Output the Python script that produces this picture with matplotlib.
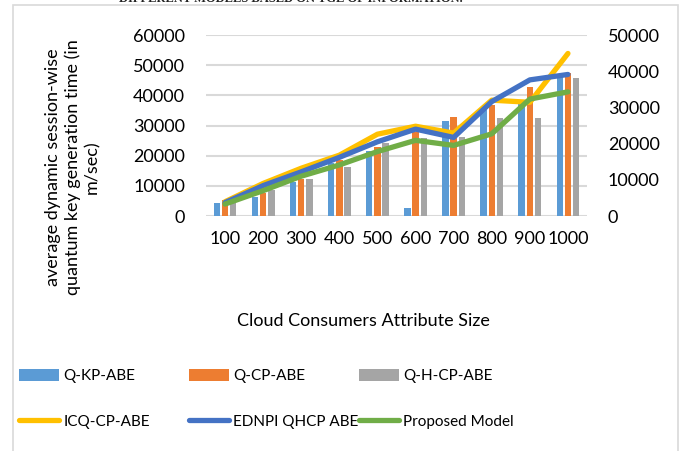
import numpy as np
import matplotlib
matplotlib.use("Agg")
import matplotlib.pyplot as plt
from matplotlib.patches import Rectangle

plt.rcParams["font.family"] = ["Lato", "DejaVu Sans"]

# Attribute sizes and timings
sizes = ["100", "200", "300", "400", "500", "600", "700", "800", "900", "1000"]

# bar series (left axis)
q_kp_abe = [4200, 6400, 11200, 17500, 21500, 2500, 31600, 35100, 37500, 47000]
q_cp_abe = [5300, 7500, 12300, 18600, 23000, 28000, 32700, 36800, 42900, 47300]
q_h_cp_abe = [4200, 8600, 12400, 16300, 24100, 25800, 26300, 32400, 32600, 45900]

# line series (right axis)
icq_cp_abe = [3950, 9000, 13200, 16800, 22600, 24800, 22900, 32000, 31400, 44900]
ednpi_qhcp = [3700, 8400, 12200, 16200, 20500, 24000, 21700, 31600, 37600, 39100]
proposed = [3300, 7000, 11000, 14100, 17800, 20900, 19500, 22700, 32300, 34300]

bar_colors = ["#5B9BD5", "#ED7D31", "#A5A5A5"]
line_colors = ["#FFC000", "#4472C4", "#70AD47"]
grid_col = "#D9D9D9"
txt = "#000000"
fs = 13

fig = plt.figure(figsize=(6.83, 4.51), dpi=100)

# outer frame of the chart area
fig.add_artist(Rectangle((13 / 683, -0.05), 665 / 683, 1 - 5 / 451 + 0.05,
                         transform=fig.transFigure, fill=False,
                         edgecolor="#D9D9D9", lw=1.2, clip_on=False))

# caption from the page above, cut off
fig.text(291 / 683, 1 - 2.5 / 451, "DIFFERENT MODELS BASED ON TGE OF INFORMATION.",
         ha="center", va="baseline", fontsize=9, fontweight="bold",
         family="Liberation Serif", color="#222222")

ax = fig.add_axes([206 / 683, 1 - 216 / 451, 381 / 683, 181 / 451])
x = np.arange(len(sizes))
w = 0.17
off = 0.215
bars = []
for i, (vals, lab) in enumerate(zip([q_kp_abe, q_cp_abe, q_h_cp_abe],
                                    ["Q-KP-ABE", "Q-CP-ABE", "Q-H-CP-ABE"])):
    b = ax.bar(x + (i - 1) * off, vals, width=w, color=bar_colors[i], label=lab, zorder=2)
    bars.append(b)

ax.set_ylim(0, 60000)
ax.set_yticks(range(0, 60001, 10000))
ax.set_xlim(-0.5, len(sizes) - 0.5)
ax.set_xticks(x)
ax.set_xticklabels(sizes)
ax.grid(axis="y", color=grid_col, lw=1.5, zorder=0)
ax.set_axisbelow(True)
for s in ax.spines.values():
    s.set_visible(False)
ax.tick_params(axis="both", length=0, labelsize=fs, colors=txt)
ax.tick_params(axis="y", pad=15)
ax.tick_params(axis="x", pad=11)
ax.set_xlabel("Cloud Consumers Attribute Size", fontsize=fs, va="center")
ax.xaxis.set_label_coords(0.412, -0.58)
ax.set_ylabel("average dynamic session-wise\nquantum key generation time (in\nm/sec)",
              fontsize=fs, linespacing=1.25, va="center", multialignment="center")
ax.yaxis.set_label_coords(-0.35, 0.27)

ax2 = ax.twinx()
lines = []
for vals, lab, c in zip([icq_cp_abe, ednpi_qhcp, proposed],
                        ["ICQ-CP-ABE", "EDNPI QHCP ABE", "Proposed Model"], line_colors):
    ln, = ax2.plot(x, vals, color=c, lw=3.8, label=lab, solid_capstyle="round",
                   solid_joinstyle="round")
    lines.append(ln)
ax2.set_ylim(0, 50000)
ax2.set_yticks(range(0, 50001, 10000))
for s in ax2.spines.values():
    s.set_visible(False)
ax2.tick_params(axis="y", length=0, labelsize=fs, colors=txt, pad=15)

# legend: three columns, bar on top row, line below
lfs = 11
col_x = [19 / 683, 189 / 683, 359 / 683]
for cx, b, ln in zip(col_x, bars, lines):
    fig.legend([b, ln], [b.get_label(), ln.get_label()], loc="upper left",
               bbox_to_anchor=(cx, 1 - 369 / 451), frameon=False, fontsize=lfs,
               handlelength=2.6, handleheight=0.8, handletextpad=0.3,
               labelspacing=2.05, borderaxespad=0, borderpad=0)

fig.savefig("out.png", dpi=100)
